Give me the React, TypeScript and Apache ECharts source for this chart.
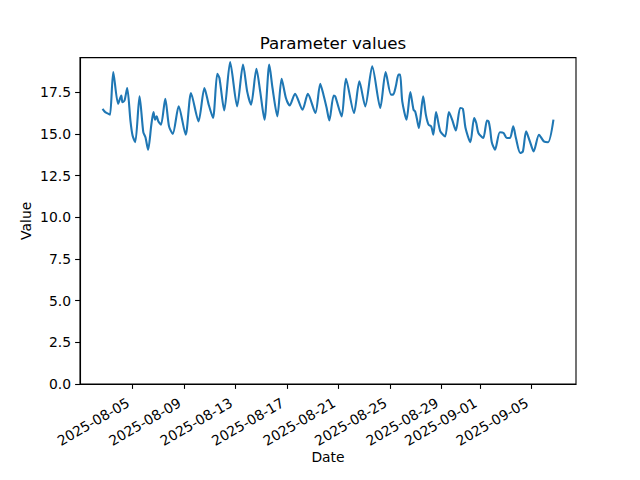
import React, { useEffect, useRef } from "react";
import * as echarts from "echarts";

const times: string[] = [
  "2025-08-02 16:00", "2025-08-02 21:00", "2025-08-03 03:00", "2025-08-03 06:00", "2025-08-03 12:00",
  "2025-08-03 21:00", "2025-08-04 03:00", "2025-08-04 05:00", "2025-08-04 09:00", "2025-08-04 14:00",
  "2025-08-04 20:00", "2025-08-05 00:00", "2025-08-05 05:00", "2025-08-05 13:00", "2025-08-05 20:00",
  "2025-08-06 00:00", "2025-08-06 05:00", "2025-08-06 11:00", "2025-08-06 15:00", "2025-08-06 18:00",
  "2025-08-06 21:00", "2025-08-07 00:00", "2025-08-07 05:00", "2025-08-07 13:00", "2025-08-07 20:00",
  "2025-08-08 03:00", "2025-08-08 14:00", "2025-08-09 03:00", "2025-08-09 13:00", "2025-08-10 03:00",
  "2025-08-10 14:00", "2025-08-10 22:00", "2025-08-11 06:00", "2025-08-11 14:00", "2025-08-11 18:00",
  "2025-08-12 03:00", "2025-08-12 14:00", "2025-08-13 03:00", "2025-08-13 14:00", "2025-08-13 22:00",
  "2025-08-14 05:00", "2025-08-14 15:00", "2025-08-14 22:00", "2025-08-15 06:00", "2025-08-15 15:00",
  "2025-08-15 21:00", "2025-08-16 06:00", "2025-08-16 14:00", "2025-08-16 22:00", "2025-08-17 05:00",
  "2025-08-17 15:00", "2025-08-18 05:00", "2025-08-18 15:00", "2025-08-19 05:00", "2025-08-19 14:00",
  "2025-08-19 20:00", "2025-08-20 02:00", "2025-08-20 07:00", "2025-08-20 15:00", "2025-08-20 18:00",
  "2025-08-21 06:00", "2025-08-21 14:00", "2025-08-22 05:00", "2025-08-22 15:00", "2025-08-23 02:00",
  "2025-08-23 15:00", "2025-08-24 06:00", "2025-08-24 16:00", "2025-08-25 02:00", "2025-08-25 06:00",
  "2025-08-25 11:00", "2025-08-25 16:00", "2025-08-25 19:00", "2025-08-25 23:00", "2025-08-26 07:00",
  "2025-08-26 14:00", "2025-08-26 20:00", "2025-08-26 23:00", "2025-08-27 02:00", "2025-08-27 06:00",
  "2025-08-27 14:00", "2025-08-27 19:00", "2025-08-28 00:00", "2025-08-28 05:00", "2025-08-28 09:00",
  "2025-08-28 14:00", "2025-08-28 22:00", "2025-08-29 07:00", "2025-08-29 14:00", "2025-08-29 20:00",
  "2025-08-30 03:00", "2025-08-30 11:00", "2025-08-30 16:00", "2025-08-30 21:00", "2025-08-31 06:00",
  "2025-08-31 13:00", "2025-08-31 17:00", "2025-08-31 21:00", "2025-09-01 06:00", "2025-09-01 13:00",
  "2025-09-01 16:00", "2025-09-01 19:00", "2025-09-01 22:00", "2025-09-02 04:00", "2025-09-02 13:00",
  "2025-09-02 20:00", "2025-09-03 02:00", "2025-09-03 08:00", "2025-09-03 14:00", "2025-09-03 19:00",
  "2025-09-04 03:00", "2025-09-04 08:00", "2025-09-04 14:00", "2025-09-04 21:00", "2025-09-05 04:00",
  "2025-09-05 14:00", "2025-09-05 23:00", "2025-09-06 07:00", "2025-09-06 17:00",
];

const values: number[] = [
  16.5, 16.3, 16.2, 16.15, 18.7,
  16.8, 17.3, 16.9, 17.0, 17.75,
  15.8, 14.9, 14.5, 17.25, 15.1,
  14.8, 14.05, 15.55, 16.3, 15.85,
  16.05, 15.75, 15.55, 17.1, 15.45,
  15.0, 16.65, 14.95, 17.45, 15.75,
  17.75, 16.75, 15.95, 18.6, 18.35,
  16.4, 19.3, 16.65, 19.15, 17.5,
  16.75, 18.9, 17.55, 15.85, 19.15,
  17.75, 16.05, 18.3, 17.15, 16.7,
  17.4, 16.45, 17.4, 16.25, 18.0,
  17.35, 16.55, 15.8, 17.3, 17.25,
  16.05, 18.3, 16.25, 18.15, 16.65,
  19.05, 16.55, 18.7, 17.35, 17.35,
  17.85, 18.55, 18.55, 16.95, 15.85,
  17.5, 16.45, 16.35, 15.95, 15.35,
  17.25, 16.15, 15.55, 15.45, 14.95,
  16.3, 15.15, 14.85, 16.3, 15.85,
  15.2, 16.55, 16.5, 15.35, 14.5,
  15.95, 15.65, 15.05, 14.75, 15.8,
  15.75, 15.25, 14.5, 14.05, 15.1,
  15.05, 14.75, 14.75, 15.45, 14.75,
  13.85, 13.95, 15.15, 14.55, 13.95,
  14.95, 14.55, 14.5, 15.85,
];

const tickDates: string[] = [
  "2025-08-05", "2025-08-09", "2025-08-13", "2025-08-17", "2025-08-21",
  "2025-08-25", "2025-08-29", "2025-09-01", "2025-09-05",
];

const yTicks: number[] = [0, 2.5, 5, 7.5, 10, 12.5, 15, 17.5];

const toMs = (s: string) => Date.parse(s.replace(" ", "T") + (s.length > 10 ? ":00Z" : "T00:00:00Z"));

export default function App() {
  const ref = useRef<HTMLDivElement>(null);
  useEffect(() => {
    if (!ref.current) return;
    const chart = echarts.init(ref.current, undefined, { renderer: "svg" });
    const xs = times.map(toMs);
    const xMin0 = Math.min(...xs);
    const xMax0 = Math.max(...xs);
    const xPad = (xMax0 - xMin0) * 0.05;
    const yMax0 = Math.max(...values);
    const yMin0 = Math.min(...values);
    const yMax = yMax0 + (yMax0 - yMin0) * 0.05;
    const font = "DejaVu Sans";
    const tickMs = tickDates.map(toMs);
    chart.setOption({
      animation: false,
      textStyle: { fontFamily: font },
      title: {
        text: "Parameter values",
        left: 328,
        top: 29,
        textAlign: "center",
        textStyle: { fontFamily: font, fontSize: 16.7, fontWeight: "normal", color: "#000" },
      },
      grid: {
        left: 80,
        right: 64,
        top: 57.6,
        bottom: 96,
        show: true,
        borderColor: "#000",
        borderWidth: 1.1,
        backgroundColor: "transparent",
      },
      xAxis: {
        type: "value",
        min: xMin0 - xPad,
        max: xMax0 + xPad,
        name: "Date",
        nameLocation: "middle",
        nameGap: 66,
        nameMoveOverlap: false,
        nameTextStyle: { fontFamily: font, fontSize: 13.9, color: "#000", verticalAlign: "top" },
        axisLine: { show: true, lineStyle: { color: "#000", width: 1.1 } },
        axisTick: { show: true, length: 4.9, lineStyle: { color: "#000", width: 1.1 }, customValues: tickMs },
        splitLine: { show: false },
        axisLabel: {
          customValues: tickMs,
          rotate: 30,
          margin: 15,
          padding: [0, 5, 0, 0],
          fontFamily: font,
          fontSize: 13.9,
          color: "#000",
          formatter: (v: number) => new Date(v).toISOString().slice(0, 10),
        },
      },
      yAxis: {
        type: "value",
        min: 0,
        max: yMax,
        name: "Value",
        nameLocation: "middle",
        nameGap: 47,
        nameMoveOverlap: false,
        nameTextStyle: { fontFamily: font, fontSize: 13.9, color: "#000" },
        axisLine: { show: true, lineStyle: { color: "#000", width: 1.1 } },
        axisTick: { show: true, length: 4.9, lineStyle: { color: "#000", width: 1.1 }, customValues: yTicks },
        splitLine: { show: false },
        axisLabel: {
          customValues: yTicks,
          margin: 9,
          fontFamily: font,
          fontSize: 13.9,
          color: "#000",
          formatter: (v: number) => v.toFixed(1),
        },
      },
      series: [
        {
          type: "line",
          data: xs.map((x, i) => [x, values[i]]),
          showSymbol: false,
          smooth: 0.25,
          lineStyle: { color: "#1f77b4", width: 2.1 },
        },
      ],
    });
    return () => chart.dispose();
  }, []);
  return (
    <div
      ref={ref}
      style={{ position: "fixed", left: 0, top: 0, width: 640, height: 480, background: "#fff" }}
    />
  );
}
